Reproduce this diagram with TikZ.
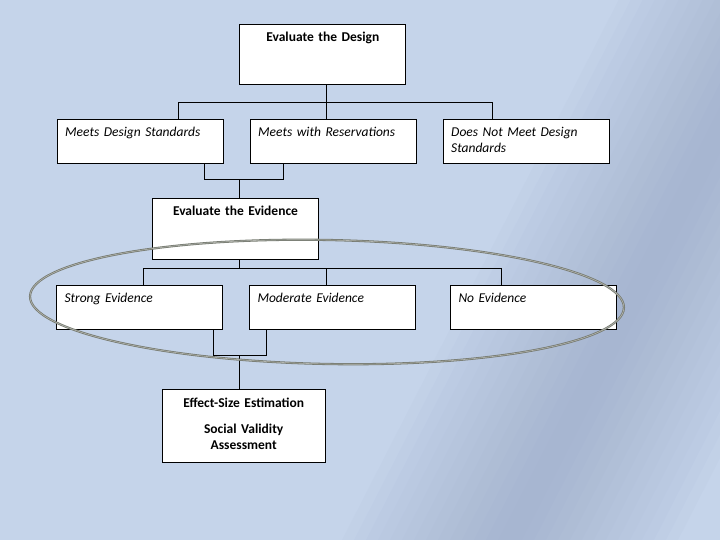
\documentclass[tikz,border=0pt]{standalone}
\usepackage{fontspec}
\setmainfont{Carlito}
\usetikzlibrary{positioning}

\definecolor{bgblue}{RGB}{197,212,234}
\definecolor{bgdark}{RGB}{150,164,194}
\definecolor{ringgray}{RGB}{118,122,112}
\newcommand{\boxfont}{\fontsize{13.5}{16.5}\selectfont}

\tikzset{
	box/.style={draw, line width=1pt, fill=white, inner xsep=8pt, inner ysep=6.5pt, text height=10pt, anchor=north west},
	ibox/.style={box, text width=150pt, align=left, font=\boxfont\itshape, text depth=21pt},
	hbox/.style={box, align=center, font=\boxfont\bfseries},
	link/.style={line width=1pt},
	ring/.style={draw=ringgray, line width=2.2pt},
	ringlight/.style={draw=white!45!ringgray, line width=0.6pt},
}

\begin{document}
\begin{tikzpicture}[x=1pt, y=-1pt]
	\useasboundingbox (0,0) rectangle (720,540);
	% background
	\fill[bgblue] (0,0) rectangle (720,540);
	\begin{scope}
		\clip (0,0) rectangle (720,540);
		\foreach \w in {12,24,...,168}
			\fill[bgdark, opacity=0.05] (837.8-\w,-100) -- (837.8+\w,-100) -- (458.8+\w,640) -- (458.8-\w,640) -- cycle;
	\end{scope}

	\node[hbox, text width=150pt, text depth=36.7pt] (des) at (239.3,24.3) {Evaluate the Design};
	\node[ibox] (mds) at (56.7,119.2) {Meets Design Standards};
	\node[ibox, right=26pt of mds] (mres) {Meets with Reservations};
	\node[ibox, right=26pt of mres] (dnm) {Does Not Meet Design\\Standards};

	\node[hbox, text width=150pt, text depth=38pt] (evi) at (152,198.3) {Evaluate the Evidence};
	\node[ibox, text depth=20.7pt] (str) at (56,285.3) {Strong Evidence};
	\node[ibox, text depth=20.7pt, right=26pt of str] (mod) {Moderate Evidence};
	\node[ibox, text depth=20.7pt, right=34pt of mod] (noev) {No Evidence};

	\node[hbox, text width=147pt, text height=11.5pt, text depth=48.5pt] (eff) at (161.7,389.3)
		{Effect-Size Estimation\\[8.8pt]Social Validity\\Assessment};

	% design level
	\coordinate (bar1) at (326.7,102.3);
	\coordinate (bar1l) at (178,102.3);
	\coordinate (bar1r) at (492,102.3);
	\draw[link] (des.south -| bar1) -- (bar1);
	\draw[link] (bar1l |- mds.north) -- (bar1l) -- (bar1r) -- (bar1r |- dnm.north);
	\draw[link] (bar1) -- (bar1 |- mres.north);

	\coordinate (join1) at (239.3,180);
	\coordinate (join1l) at (204.3,180);
	\coordinate (join1r) at (283,180);
	\draw[link] (join1l |- mds.south) -- (join1l) -- (join1r) -- (join1r |- mres.south);
	\draw[link] (join1) -- (join1 |- evi.north);

	% evidence level
	\coordinate (bar2) at (239.3,268.3);
	\coordinate (bar2l) at (143.3,268.3);
	\coordinate (bar2m) at (326.7,268.3);
	\coordinate (bar2r) at (501.5,268.3);
	\draw[link] (evi.south -| bar2) -- (bar2);
	\draw[link] (bar2l |- str.north) -- (bar2l) -- (bar2r) -- (bar2r |- noev.north);
	\draw[link] (bar2m) -- (bar2m |- mod.north);

	\coordinate (join2) at (239.3,355);
	\coordinate (join2l) at (213.5,355);
	\coordinate (join2r) at (266,355);
	\draw[link] (join2l |- str.south) -- (join2l) -- (join2r) -- (join2r |- mod.south);
	\draw[link] (join2) -- (join2 |- eff.north);

	% ring round the evidence row
	\coordinate (ringc) at (327,302);
	\draw[ring, rotate around={-1.1:(ringc)}] (ringc) ellipse [x radius=297pt, y radius=62pt];
	\draw[ringlight, rotate around={-1.1:(ringc)}] (ringc) ellipse [x radius=297pt, y radius=62pt];
\end{tikzpicture}
\end{document}
